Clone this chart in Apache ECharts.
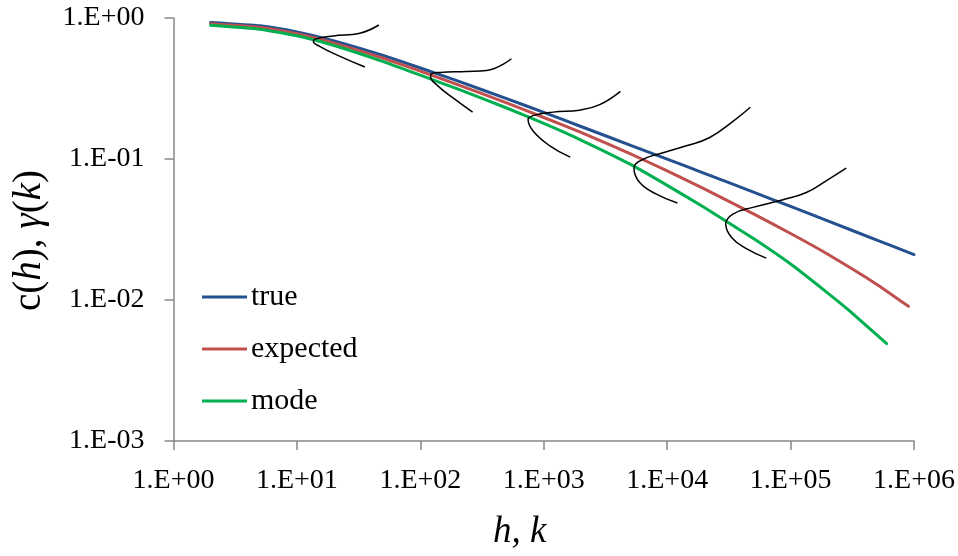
<!DOCTYPE html>
<html>
<head>
<meta charset="utf-8">
<script src="https://cdn.jsdelivr.net/npm/echarts@6/dist/echarts.min.js"></script>
<style>
  html, body { margin: 0; padding: 0; background: #fff; }
  #chart { width: 958px; height: 556px; }
</style>
</head>
<body>
<div id="chart"></div>
<script>
// Lag values (h, k) for each curve
const hkTrue     = [2, 5, 10, 20, 50, 100, 200, 500, 1e3, 2e3, 5e3, 1e4, 2e4, 5e4, 1e5, 2e5, 5e5, 1e6];
const hkExpected = [2, 5, 10, 20, 50, 100, 200, 500, 1e3, 2e3, 5e3, 1e4, 2e4, 5e4, 1e5, 2e5, 5e5, 9e5];
const hkMode     = [2, 5, 10, 20, 50, 100, 200, 500, 1e3, 2e3, 5e3, 1e4, 2e4, 5e4, 1e5, 2e5, 3e5, 6e5];

// Correlation values
const trueVals     = [0.930, 0.880, 0.796, 0.688, 0.542, 0.442, 0.358, 0.268, 0.214, 0.170, 0.1256, 0.0999, 0.0792, 0.0582, 0.0461, 0.0364, 0.0266, 0.0210];
const expectedVals = [0.911, 0.858, 0.773, 0.664, 0.518, 0.420, 0.337, 0.250, 0.197, 0.1545, 0.109, 0.0824, 0.0614, 0.0408, 0.0296, 0.0211, 0.0129, 0.00902];
const modeVals     = [0.888, 0.833, 0.748, 0.638, 0.491, 0.393, 0.314, 0.230, 0.1786, 0.1363, 0.0919, 0.0650, 0.0453, 0.0273, 0.0180, 0.0112, 0.00838, 0.00491];

// Sketched sampling densities of the estimate at five lags
const density1 = [[46.1, 0.892], [32.4, 0.780], [19.7, 0.746], [14.0, 0.708], [13.6, 0.681], [15.4, 0.627], [21.0, 0.548], [35.5, 0.449]];
const density2 = [[547, 0.514], [344, 0.425], [237, 0.418], [144, 0.411], [123, 0.403], [121, 0.385], [135, 0.337], [184, 0.271], [265, 0.215]];
const density3 = [[4180, 0.302], [2840, 0.243], [1950, 0.222], [1190, 0.215], [819, 0.203], [746, 0.191], [819, 0.158], [1120, 0.124], [1640, 0.103]];
const density4 = [[47200, 0.233], [34100, 0.185], [22100, 0.142], [14300, 0.124], [8690, 0.109], [6370, 0.0995], [5380, 0.0860], [5990, 0.0681], [8180, 0.0563], [12100, 0.0487]];
const density5 = [[282000, 0.0860], [194000, 0.0700], [134000, 0.0579], [86700, 0.0514], [49500, 0.0454], [34100, 0.0407], [29800, 0.0346], [33100, 0.0279], [43800, 0.0231], [63500, 0.0198]];

// Tick labels, indexed by decade exponent
const xTickLabels = ['1.E+00', '1.E+01', '1.E+02', '1.E+03', '1.E+04', '1.E+05', '1.E+06'];
const yTickLabels = { '-3': '1.E-03', '-2': '1.E-02', '-1': '1.E-01', '0': '1.E+00' };

const seriesNames = ['true', 'expected', 'mode'];
const seriesColors = ['#23508e', '#c0504d', '#00b050'];

const FONT = 'Liberation Serif';
const AXIS_GREY = '#878787';

const pair = (xs, ys) => xs.map((x, i) => [x, ys[i]]);
const expOf = v => Math.round(Math.log10(v));

const mainSeries = [
  pair(hkTrue, trueVals),
  pair(hkExpected, expectedVals),
  pair(hkMode, modeVals)
].map((data, i) => ({
  name: seriesNames[i],
  type: 'line',
  data: data,
  smooth: 0.15,
  showSymbol: false,
  symbol: 'none',
  lineStyle: { color: seriesColors[i], width: 3, cap: 'round', join: 'round' },
  itemStyle: { color: seriesColors[i] },
  silent: true,
  z: 2 + i
}));

const densitySeries = [density1, density2, density3, density4, density5].map(d => ({
  type: 'line',
  data: d,
  smooth: 0.45,
  showSymbol: false,
  symbol: 'none',
  lineStyle: { color: '#000', width: 1.5 },
  silent: true,
  z: 10
}));

const chart = echarts.init(document.getElementById('chart'), null, { renderer: 'canvas' });
chart.setOption({
  animation: false,
  backgroundColor: '#fff',
  grid: { left: 173.5, right: 43.5, top: 18, bottom: 113, containLabel: false },
  legend: {
    data: seriesNames,
    orient: 'vertical',
    left: 197,
    top: 277,
    icon: 'rect',
    itemWidth: 45,
    itemHeight: 3,
    itemGap: 22,
    textStyle: { fontFamily: FONT, fontSize: 30, color: '#000', lineHeight: 30, padding: [0, 0, 0, -1] }
  },
  xAxis: {
    type: 'log',
    logBase: 10,
    min: 1,
    max: 1e6,
    splitNumber: 6,
    name: '{i|h, k}',
    nameLocation: 'middle',
    nameGap: 73,
    nameTextStyle: {
      padding: [0, 48, 0, 0],
      rich: { i: { fontFamily: FONT, fontStyle: 'italic', fontSize: 37, color: '#000' } }
    },
    axisLine: { show: true, lineStyle: { color: AXIS_GREY, width: 1.5 } },
    axisTick: { show: true, inside: false, length: 9, lineStyle: { color: AXIS_GREY, width: 1.5 } },
    minorTick: { show: false },
    splitLine: { show: false },
    axisLabel: {
      fontFamily: FONT, fontSize: 28, color: '#000', margin: 26,
      formatter: v => xTickLabels[expOf(v)]
    }
  },
  yAxis: {
    type: 'log',
    logBase: 10,
    min: 0.001,
    max: 1,
    splitNumber: 3,
    name: '{n|c(}{i|h}{n|), }{i|γ}{n|(}{i|k}{n|)}',
    nameLocation: 'middle',
    nameRotate: 90,
    nameGap: 124,
    nameTextStyle: {
      padding: [0, 22, 0, 0],
      rich: {
        n: { fontFamily: FONT, fontSize: 39, color: '#000' },
        i: { fontFamily: FONT, fontStyle: 'italic', fontSize: 39, color: '#000' }
      }
    },
    axisLine: { show: true, lineStyle: { color: AXIS_GREY, width: 1.5 } },
    axisTick: { show: true, inside: false, length: 9, lineStyle: { color: AXIS_GREY, width: 1.5 } },
    minorTick: { show: false },
    splitLine: { show: false },
    axisLabel: {
      fontFamily: FONT, fontSize: 28, color: '#000', margin: 29,
      formatter: v => yTickLabels[String(expOf(v))]
    }
  },
  series: mainSeries.concat(densitySeries)
});
</script>
</body>
</html>
